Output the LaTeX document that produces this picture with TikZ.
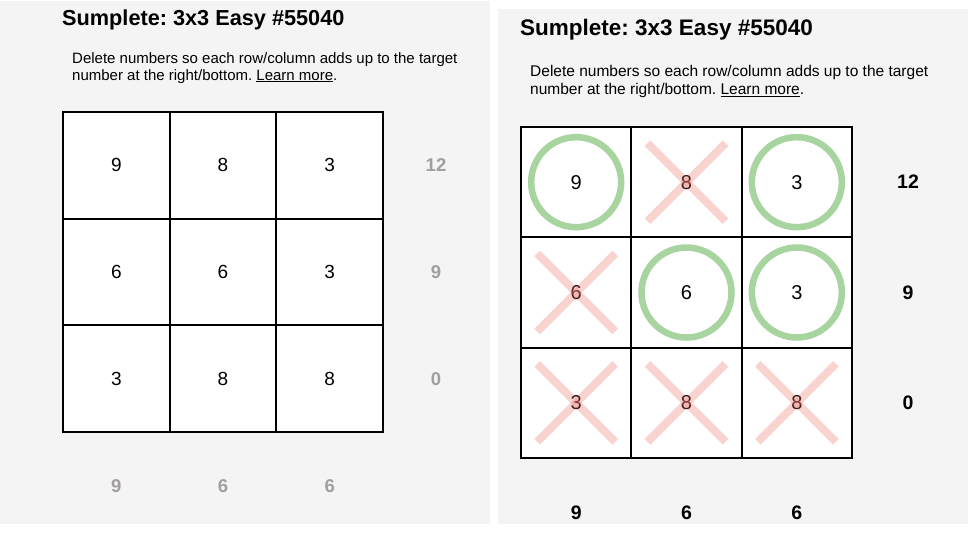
\documentclass[tikz,border=0pt]{standalone}
\usepackage{fontspec}
\setmainfont{Liberation Sans}
\frenchspacing
\definecolor{panelbg}{HTML}{F4F4F4}
\definecolor{targetgray}{HTML}{A39E9E}
\definecolor{keepgreen}{RGB}{168,212,160}
\definecolor{crossred}{RGB}{235,110,100}
\begin{document}
\frenchspacing
\begin{tikzpicture}[x=1pt,y=-1pt,
  panel/.style={fill=panelbg,draw=none},
  cellL/.style={draw=black,line width=1.8pt,fill=white,minimum size=106.67pt,inner sep=0pt,
    font=\fontsize{19}{19}\selectfont},
  cellR/.style={draw=black,line width=1.8pt,fill=white,minimum size=110.33pt,inner sep=0pt,
    font=\fontsize{20}{20}\selectfont},
  tgtL/.style={inner sep=0pt,text=targetgray,font=\fontsize{18.5}{18}\selectfont\bfseries},
  tgtR/.style={inner sep=0pt,text=black,font=\fontsize{19.5}{19}\selectfont\bfseries},
  keep/.style={draw=keepgreen,line width=6.5pt},
  cross/.style={draw=crossred,draw opacity=0.3,line width=8pt},
  txt/.style={anchor=base west,inner sep=0pt}]
\useasboundingbox (0,0) rectangle (968,536);
\fill[white] (0,0) rectangle (968,536);
\fill[panel] (0,1) rectangle (490,524);
\fill[panel] (498,9) rectangle (968,524);

% ---------- left panel ----------
\node[txt,font=\fontsize{21.7}{26}\selectfont\bfseries] (titleL) at (62,25) {Sumplete: 3x3 Easy \#55040};
\node[txt,font=\fontsize{15}{17}\selectfont] (descL1) at (72,63) {Delete numbers so each row/column adds up to the target};
\node[txt,font=\fontsize{15}{17}\selectfont] (descL2) at (72,80) {number at the right/bottom. \underline{Learn more}.};

\def\lx{{116.33,223,329.67}}
\def\ly{{165.33,272,378.67}}
\foreach \r/\row in {0/{9,8,3},1/{6,6,3},2/{3,8,8}}{
  \foreach \v [count=\c from 0] in \row {
    \pgfmathsetmacro{\px}{\lx[\c]}
    \pgfmathsetmacro{\py}{\ly[\r]}
    \node[cellL] (L-\r-\c) at (\px,\py) {\v};
  }
}
\node[tgtL] (LR0) at (436,165.33) {12};
\node[tgtL] (LR1) at (436,272) {9};
\node[tgtL] (LR2) at (436,378.67) {0};
\node[tgtL] (LB0) at (116.33,486) {9};
\node[tgtL] (LB1) at (223,486) {6};
\node[tgtL] (LB2) at (329.67,486) {6};

% ---------- right panel ----------
\node[txt,font=\fontsize{22.5}{27}\selectfont\bfseries] (titleR) at (520,35) {Sumplete: 3x3 Easy \#55040};
\node[txt,font=\fontsize{15.5}{18}\selectfont] (descR1) at (530,76.5) {Delete numbers so each row/column adds up to the target};
\node[txt,font=\fontsize{15.5}{18}\selectfont] (descR2) at (530,94.5) {number at the right/bottom. \underline{Learn more}.};

\def\rx{{576.17,686.5,796.83}}
\def\ry{{182.17,292.5,402.83}}
\foreach \r/\row in {0/{9,8,3},1/{6,6,3},2/{3,8,8}}{
  \foreach \v [count=\c from 0] in \row {
    \pgfmathsetmacro{\px}{\rx[\c]}
    \pgfmathsetmacro{\py}{\ry[\r]}
    \node[cellR] (R-\r-\c) at (\px,\py) {\v};
  }
}
% kept cells
\foreach \n in {R-0-0,R-0-2,R-1-1,R-1-2}{
  \draw[keep] (\n.center) circle[radius=45];
}
% deleted cells
\foreach \n in {R-0-1,R-1-0,R-2-0,R-2-1,R-2-2}{
  \draw[cross] ([shift={(-39,-39)}]\n.center) -- ([shift={(39,39)}]\n.center);
  \draw[cross] ([shift={(-39,39)}]\n.center) -- ([shift={(39,-39)}]\n.center);
}
\node[tgtR] (RR0) at (908,182.17) {12};
\node[tgtR] (RR1) at (908,292.5) {9};
\node[tgtR] (RR2) at (908,402.83) {0};
\node[tgtR] (RB0) at (576.17,513) {9};
\node[tgtR] (RB1) at (686.5,513) {6};
\node[tgtR] (RB2) at (796.83,513) {6};
\end{tikzpicture}
\end{document}
